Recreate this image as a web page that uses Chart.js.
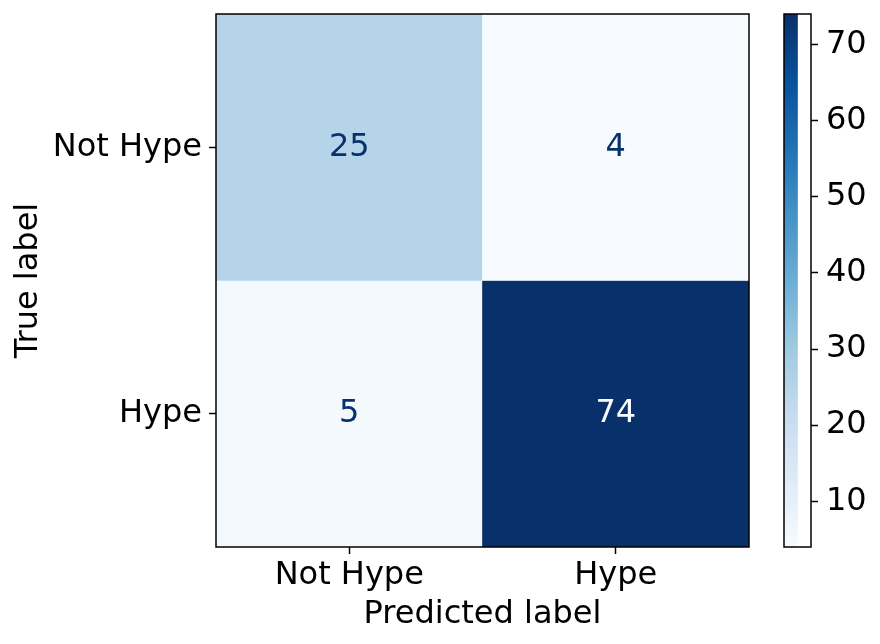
<!DOCTYPE html>
<html>
<head>
<meta charset="utf-8">
<script src="https://cdn.jsdelivr.net/npm/chart.js@4.4.1/dist/chart.umd.min.js"></script>
<style>
  html, body { margin: 0; padding: 0; background: #fff; }
  #wrap { position: relative; width: 880px; height: 644px; }
  #matrix { position: absolute; left: 0; top: 0; }
  #colorbar { position: absolute; left: 760px; top: 0; }
</style>
</head>
<body>
<div id="wrap">
  <canvas id="matrix" width="760" height="644"></canvas>
  <canvas id="colorbar" width="120" height="644"></canvas>
</div>
<script>
// --- Data ---
const predictedLabels = ['Not Hype', 'Hype'];
const trueLabels = ['Not Hype', 'Hype'];
const notHypeRow = [25, 4];
const hypeRow = [5, 74];
const colorbarTicks = [10, 20, 30, 40, 50, 60, 70];

const matrixRows = [notHypeRow, hypeRow];
const allValues = matrixRows.flat();
const vmin = Math.min(...allValues);
const vmax = Math.max(...allValues);

// --- Helpers ---
// matplotlib "Blues" colormap stops
const bluesStops = ['#f7fbff', '#deebf7', '#c6dbef', '#9ecae1', '#6baed6', '#4292c6', '#2171b5', '#08519c', '#08306b'];

function hexToRgb(h) {
    return [parseInt(h.slice(1, 3), 16), parseInt(h.slice(3, 5), 16), parseInt(h.slice(5, 7), 16)];
}

function blues(t) {
    t = Math.max(0, Math.min(1, t));
    const pos = t * (bluesStops.length - 1);
    const i = Math.min(Math.floor(pos), bluesStops.length - 2);
    const f = pos - i;
    const a = hexToRgb(bluesStops[i]);
    const b = hexToRgb(bluesStops[i + 1]);
    const c = a.map((v, k) => Math.round(v + (b[k] - v) * f));
    return `rgb(${c[0]},${c[1]},${c[2]})`;
}

function colorFor(v) {
    return blues((v - vmin) / (vmax - vmin));
}

const FONT = { family: 'DejaVu Sans', size: 32, lineHeight: 1.2 };
const TICK_LEN = 7;
const SPINE = 1.5;

// chart.js reserves room for half a tick label at the ends; matplotlib doesn't
function noEdgePadding(axis) {
    axis.paddingTop = 0;
    axis.paddingBottom = 0;
    axis.paddingLeft = 0;
    axis.paddingRight = 0;
}

// --- Plugins ---
const framePlugin = {
    id: 'frame',
    afterDraw(chart) {
        const { ctx, chartArea: a } = chart;
        ctx.save();
        ctx.strokeStyle = '#000';
        ctx.lineWidth = SPINE;
        ctx.strokeRect(a.left, a.top, a.right - a.left, a.bottom - a.top);
        ctx.restore();
    }
};

const cellTextPlugin = {
    id: 'cellText',
    afterDatasetsDraw(chart) {
        const { ctx } = chart;
        const threshold = (vmin + vmax) / 2;
        ctx.save();
        ctx.font = `${FONT.size}px "${FONT.family}"`;
        ctx.textAlign = 'center';
        ctx.textBaseline = 'middle';
        chart.data.datasets.forEach((ds, di) => {
            const meta = chart.getDatasetMeta(di);
            meta.data.forEach((el, i) => {
                const v = ds.values[i];
                const { x, y, base } = el.getProps(['x', 'y', 'base'], true);
                ctx.fillStyle = v > threshold ? blues(0) : blues(1);
                ctx.fillText(String(v), x, (y + base) / 2);
            });
        });
        ctx.restore();
    }
};

// --- Confusion matrix ---
const matrixDatasets = matrixRows.map((row, r) => ({
    label: trueLabels[r],
    data: row.map(() => [r - 0.5, r + 0.5]),
    values: row,
    backgroundColor: row.map(colorFor),
    borderWidth: 0,
    barPercentage: 1,
    categoryPercentage: 1,
    grouped: false
}));

new Chart(document.getElementById('matrix'), {
    type: 'bar',
    data: { labels: predictedLabels, datasets: matrixDatasets },
    options: {
        responsive: false,
        animation: false,
        events: [],
        layout: { padding: { left: 0, top: 14, right: 11, bottom: 0 } },
        plugins: { legend: { display: false }, tooltip: { enabled: false } },
        scales: {
            x: {
                type: 'category',
                offset: true,
                border: { display: false },
                grid: { offset: false, drawOnChartArea: false, drawTicks: true, tickLength: TICK_LEN, tickColor: '#000', tickWidth: SPINE },
                ticks: { color: '#000', font: FONT, padding: 2, maxRotation: 0 },
                title: { display: true, text: 'Predicted label', color: '#000', font: FONT, padding: { top: 0, bottom: 10 } },
                afterFit: (axis) => { axis.height = 97; noEdgePadding(axis); }
            },
            y: {
                type: 'linear',
                min: -0.5,
                max: 1.5,
                reverse: true,
                border: { display: false },
                afterBuildTicks: (axis) => { axis.ticks = trueLabels.map((_, i) => ({ value: i })); },
                grid: { drawOnChartArea: false, drawTicks: true, tickLength: TICK_LEN, tickColor: '#000', tickWidth: SPINE },
                ticks: { color: '#000', font: FONT, padding: 7, callback: (v) => trueLabels[v] },
                title: { display: true, text: 'True label', color: '#000', font: FONT, padding: { top: 9, bottom: 0 } },
                afterFit: (axis) => { axis.width = 216; noEdgePadding(axis); }
            }
        }
    },
    plugins: [cellTextPlugin, framePlugin]
});

// --- Colorbar ---
new Chart(document.getElementById('colorbar'), {
    type: 'bar',
    data: {
        labels: [''],
        datasets: [{
            data: [[vmin, vmax]],
            borderWidth: 0,
            barPercentage: 1,
            categoryPercentage: 1,
            backgroundColor: (c) => {
                const area = c.chart.chartArea;
                if (!area) return blues(0.5);
                const yScale = c.chart.scales.y;
                const g = c.chart.ctx.createLinearGradient(0, yScale.getPixelForValue(vmin), 0, yScale.getPixelForValue(vmax));
                bluesStops.forEach((s, i) => g.addColorStop(i / (bluesStops.length - 1), s));
                return g;
            }
        }]
    },
    options: {
        responsive: false,
        animation: false,
        events: [],
        layout: { padding: { left: 24, top: 14, right: 0, bottom: 97 } },
        plugins: { legend: { display: false }, tooltip: { enabled: false } },
        scales: {
            x: { display: false, offset: false },
            y: {
                position: 'right',
                min: vmin,
                max: vmax,
                border: { display: false },
                afterBuildTicks: (axis) => { axis.ticks = colorbarTicks.map(v => ({ value: v })); },
                grid: { drawOnChartArea: false, drawTicks: true, tickLength: TICK_LEN, tickColor: '#000', tickWidth: SPINE },
                ticks: { color: '#000', font: FONT, padding: 8 },
                afterFit: (axis) => { axis.width = 69; noEdgePadding(axis); }
            }
        }
    },
    plugins: [framePlugin]
});
</script>
</body>
</html>
